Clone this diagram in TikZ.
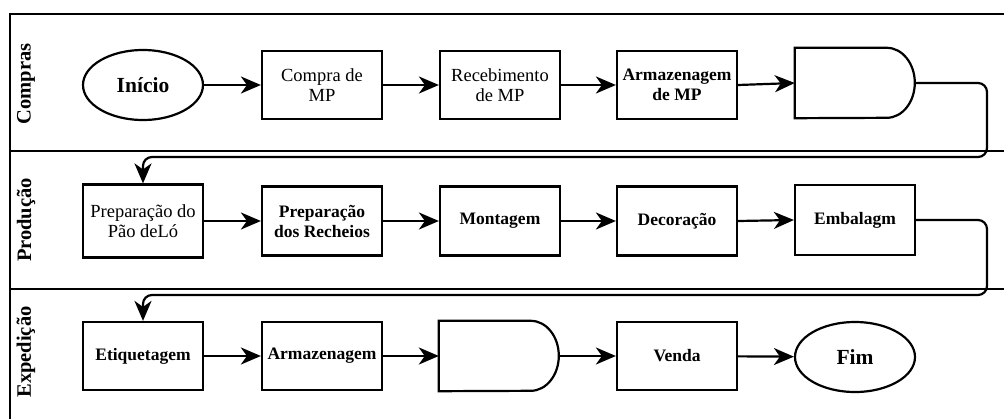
\documentclass[tikz,border=0pt]{standalone}
\usepackage{fontspec}
\setmainfont{Liberation Serif}
\usetikzlibrary{arrows.meta,shapes.geometric}
\begin{document}
\begin{tikzpicture}[x=1pt,y=-1pt,
  lane/.style={draw,line width=2pt,inner sep=0pt,minimum width=1010pt,anchor=north west},
  stepbox/.style={draw,line width=2.2pt,minimum width=120pt,minimum height=68pt,inner sep=2pt,
    align=center,font=\fontsize{18.5}{20}\selectfont},
  boldbox/.style={stepbox,font=\bfseries\fontsize{17.5}{20}\selectfont},
  term/.style={ellipse,draw,line width=2.2pt,minimum width=120pt,minimum height=70pt,inner sep=0pt,
    font=\bfseries\fontsize{21.5}{24}\selectfont},
  delaybox/.style={minimum width=120pt,minimum height=70pt,inner sep=0pt},
  delayline/.style={line width=2.2pt},
  flow/.style={line width=2.2pt,-{Stealth[length=20pt,width=17pt,inset=6pt]}},
  lanetitle/.style={rotate=90,font=\bfseries\fontsize{20.5}{24}\selectfont}
]
\useasboundingbox (0,0) rectangle (1004,418);
\clip (0,0) rectangle (1004,418);

% swimlanes
\node[lane,minimum height=137pt] (compras) at (9,13) {};
\node[lane,minimum height=138pt] (producao) at (9,150) {};
\node[lane,minimum height=150pt] (expedicao) at (9,288) {};
\node[lanetitle] (tcompras) at (26,84) {Compras};
\node[lanetitle] (tproducao) at (26,220) {Produção};
\node[lanetitle] (texpedicao) at (26,352) {Expedição};

% Compras
\node[term] (inicio) at (143,85) {Início};
\node[stepbox] (compra) at (322,85) {Compra de\\MP};
\node[stepbox] (receb) at (500,85) {Recebimento\\de MP};
\node[boldbox] (armmp) at (677,85) {Armazenagem\\de MP};
\node[delaybox] (espera1) at (855,83) {};
\draw[delayline] (espera1.north west) -- ++(92,0)
  arc[start angle=90,end angle=-90,x radius=28pt,y radius=35pt] -- (espera1.south west) -- cycle;

% Produção
\node[stepbox,minimum height=73pt] (pao) at (143,221) {Preparação do\\Pão deLó};
\node[boldbox,minimum height=69pt] (recheio) at (322,221) {Preparação\\dos Recheios};
\node[boldbox,minimum height=69pt] (montagem) at (500,221) {Montagem};
\node[boldbox,minimum height=69pt] (decor) at (677,221) {Decoração};
\node[boldbox,minimum height=70pt] (embal) at (855,220) {Embalagm};

% Expedição
\node[boldbox] (etiq) at (143,356) {Etiquetagem};
\node[boldbox] (armaz) at (322,356) {Armazenagem};
\node[delaybox] (espera2) at (499,356) {};
\draw[delayline] (espera2.north west) -- ++(92,0)
  arc[start angle=90,end angle=-90,x radius=28pt,y radius=35pt] -- (espera2.south west) -- cycle;
\node[boldbox] (venda) at (677,356) {Venda};
\node[term] (fim) at (855,357) {Fim};

% flow
\draw[flow] (inicio) -- (compra);
\draw[flow] (compra) -- (receb);
\draw[flow] (receb) -- (armmp);
\draw[flow] (armmp.east) -- (espera1.west);
\coordinate (volta1) at (987,157);
\draw[flow,rounded corners=9pt] (espera1.east) -| (volta1) -| (pao.north);

\draw[flow] (pao) -- (recheio);
\draw[flow] (recheio) -- (montagem);
\draw[flow] (montagem) -- (decor);
\draw[flow] (decor.east) -- (embal.west);
\coordinate (volta2) at (987,295);
\draw[flow,rounded corners=9pt] (embal.east) -| (volta2) -| (etiq.north);

\draw[flow] (etiq) -- (armaz);
\draw[flow] (armaz.east) -- (espera2.west);
\draw[flow] (espera2.east) -- (venda.west);
\draw[flow] (venda) -- (fim);
\end{tikzpicture}
\end{document}
